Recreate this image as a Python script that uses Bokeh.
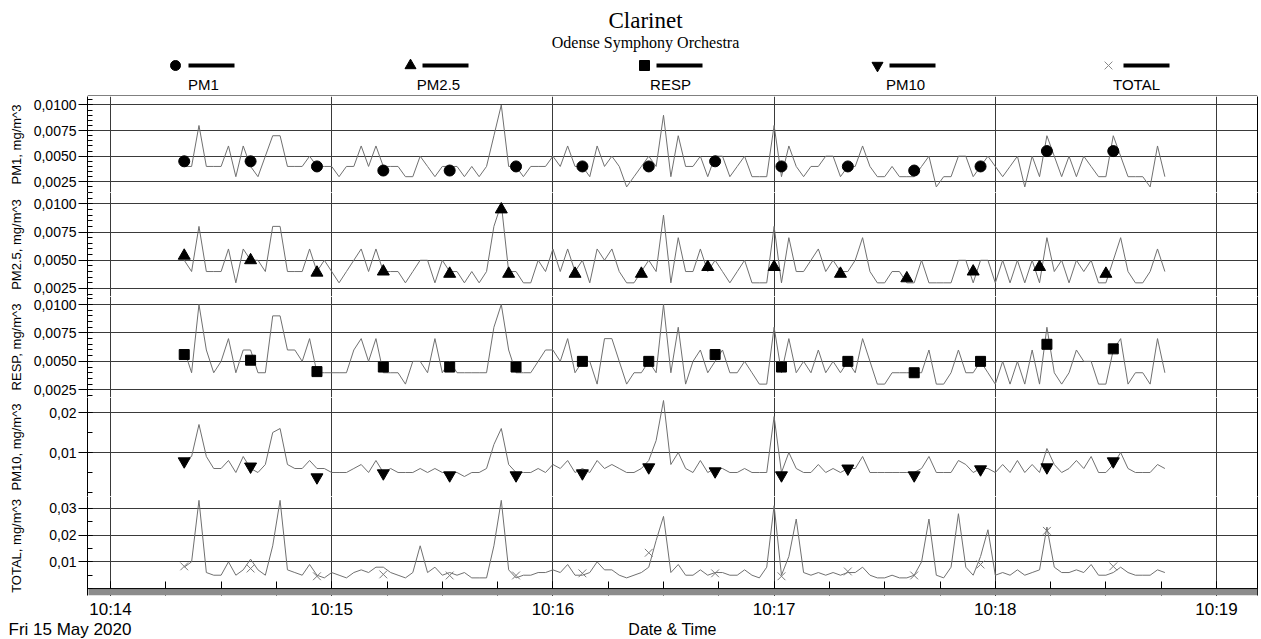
import numpy as np
import pandas as pd
from bokeh.plotting import figure
from bokeh.layouts import column
from bokeh.models import (Range1d, FixedTicker, LinearAxis, DatetimeAxis, DatetimeTickFormatter,
                          Grid, Span, BoxAnnotation, ColumnDataSource)
from bokeh.core.properties import value
from bokeh.embed import file_html
from bokeh.resources import INLINE

# ---------------------------------------------------------------- data
TITLE = "Clarinet"
SUBTITLE = "Odense Symphony Orchestra"
SERIES = ["PM1", "PM2.5", "RESP", "PM10", "TOTAL"]
Y_TITLES = ["PM1, mg/m^3", "PM2.5, mg/m^3", "RESP, mg/m^3", "PM10, mg/m^3", "TOTAL, mg/m^3"]
DATE_TEXT = "Fri 15 May 2020"
X_TITLE = "Date & Time"
DAY = "2020-05-15"
X_TICK_LABELS = ["10:14", "10:15", "10:16", "10:17", "10:18", "10:19"]
SAMPLE_START = "10:14:20"
SAMPLE_STEP_S = 2

PM1 = [0.004, 0.004, 0.008, 0.004, 0.004, 0.004, 0.006, 0.003, 0.006, 0.004, 0.003, 0.005, 0.007,
       0.007, 0.004, 0.004, 0.004, 0.005, 0.004, 0.004, 0.004, 0.003, 0.004, 0.004, 0.006, 0.004,
       0.006, 0.004, 0.004, 0.004, 0.003, 0.003, 0.005,
       0.004, 0.003, 0.004, 0.004, 0.004, 0.003, 0.004, 0.003, 0.004, 0.007,
       0.010, 0.004, 0.004, 0.003, 0.004, 0.004, 0.004, 0.005, 0.004, 0.006,
       0.004, 0.004, 0.003, 0.006, 0.004, 0.005, 0.004, 0.002, 0.003, 0.004,
       0.005, 0.004, 0.009, 0.003, 0.007, 0.004, 0.004, 0.005, 0.003, 0.005,
       0.005, 0.003, 0.004, 0.005, 0.003, 0.003, 0.003, 0.008, 0.003, 0.006,
       0.004, 0.003, 0.004, 0.004, 0.005,
       0.005, 0.003, 0.004, 0.004, 0.006, 0.004, 0.003, 0.003, 0.004, 0.003,
       0.003, 0.003, 0.004, 0.005, 0.002, 0.003, 0.003, 0.005, 0.005, 0.003,
       0.004, 0.005, 0.004, 0.003, 0.004, 0.005, 0.002, 0.005, 0.003, 0.007,
       0.005, 0.003, 0.005, 0.003, 0.005, 0.004, 0.003, 0.003, 0.007, 0.005,
       0.003, 0.003, 0.003, 0.002, 0.006, 0.003]
PM25 = [0.005, 0.004, 0.008, 0.004, 0.004, 0.004, 0.006, 0.003, 0.006, 0.005, 0.005, 0.004, 0.008,
        0.008, 0.004, 0.004, 0.004, 0.006, 0.004, 0.005, 0.004, 0.003, 0.004, 0.005, 0.006, 0.004,
        0.006, 0.004, 0.004, 0.004, 0.003, 0.004, 0.005,
        0.005, 0.003, 0.005, 0.004, 0.004, 0.003, 0.004, 0.003, 0.004, 0.008,
        0.010, 0.004, 0.004, 0.003, 0.003, 0.005, 0.004, 0.006, 0.004, 0.006,
        0.004, 0.005, 0.003, 0.006, 0.005, 0.006, 0.004, 0.003, 0.003, 0.004,
        0.005, 0.004, 0.009, 0.003, 0.007, 0.004, 0.004, 0.006, 0.004, 0.005,
        0.004, 0.003, 0.004, 0.005, 0.003, 0.003, 0.003, 0.008, 0.003, 0.007,
        0.004, 0.004, 0.005, 0.006, 0.004,
        0.005, 0.004, 0.004, 0.005, 0.007, 0.004, 0.003, 0.003, 0.004, 0.004,
        0.003, 0.003, 0.005, 0.003, 0.003, 0.003, 0.003, 0.005, 0.005, 0.003,
        0.005, 0.005, 0.003, 0.005, 0.003, 0.005, 0.003, 0.005, 0.003, 0.007,
        0.004, 0.005, 0.003, 0.005, 0.004, 0.005, 0.003, 0.003, 0.005, 0.007,
        0.004, 0.003, 0.003, 0.004, 0.006, 0.004]
RESP = [0.006, 0.004, 0.010, 0.006, 0.004, 0.005, 0.007, 0.004, 0.006, 0.006, 0.004, 0.004, 0.009,
        0.009, 0.006, 0.006, 0.005, 0.007, 0.004, 0.004, 0.004, 0.004, 0.004, 0.006, 0.007, 0.005,
        0.007, 0.004, 0.004, 0.004, 0.003, 0.005, 0.005,
        0.004, 0.007, 0.004, 0.005, 0.004, 0.004, 0.004, 0.004, 0.004, 0.008,
        0.010, 0.006, 0.004, 0.004, 0.004, 0.005, 0.006, 0.006, 0.005, 0.007,
        0.004, 0.005, 0.005, 0.003, 0.007, 0.007, 0.005, 0.003, 0.004, 0.004,
        0.005, 0.004, 0.010, 0.004, 0.008, 0.003, 0.005, 0.006, 0.004, 0.005,
        0.006, 0.004, 0.004, 0.005, 0.004, 0.003, 0.003, 0.008, 0.004, 0.007,
        0.004, 0.005, 0.004, 0.006, 0.004,
        0.005, 0.004, 0.005, 0.004, 0.007, 0.005, 0.003, 0.003, 0.004, 0.004,
        0.004, 0.004, 0.004, 0.006, 0.003, 0.003, 0.004, 0.006, 0.004, 0.004,
        0.005, 0.004, 0.003, 0.005, 0.003, 0.005, 0.003, 0.006, 0.003, 0.008,
        0.004, 0.003, 0.004, 0.006, 0.005, 0.005, 0.003, 0.003, 0.006, 0.007,
        0.003, 0.004, 0.004, 0.003, 0.007, 0.004]
PM10 = [0.008, 0.009, 0.017, 0.009, 0.006, 0.006, 0.008, 0.005, 0.009, 0.006, 0.005, 0.007, 0.015,
        0.016, 0.007, 0.006, 0.006, 0.008, 0.006, 0.006, 0.005, 0.005, 0.005, 0.006, 0.007, 0.005,
        0.008, 0.005, 0.006, 0.005, 0.005, 0.005, 0.006,
        0.005, 0.006, 0.005, 0.005, 0.005, 0.004, 0.005, 0.005, 0.006, 0.012,
        0.016, 0.007, 0.005, 0.005, 0.005, 0.006, 0.005, 0.007, 0.006, 0.008,
        0.005, 0.006, 0.005, 0.008, 0.006, 0.007, 0.006, 0.005, 0.005, 0.006,
        0.008, 0.013, 0.023, 0.007, 0.010, 0.006, 0.005, 0.008, 0.005, 0.006,
        0.006, 0.005, 0.005, 0.006, 0.005, 0.005, 0.005, 0.019, 0.005, 0.010,
        0.006, 0.005, 0.005, 0.007, 0.005,
        0.006, 0.005, 0.006, 0.006, 0.009, 0.005, 0.005, 0.005, 0.005, 0.005,
        0.005, 0.005, 0.006, 0.009, 0.005, 0.005, 0.005, 0.008, 0.007, 0.005,
        0.006, 0.006, 0.005, 0.007, 0.005, 0.008, 0.005, 0.007, 0.005, 0.011,
        0.007, 0.005, 0.006, 0.008, 0.006, 0.009, 0.005, 0.005, 0.007, 0.010,
        0.006, 0.005, 0.005, 0.005, 0.007, 0.006]
TOTAL = [0.008, 0.010, 0.033, 0.006, 0.005, 0.005, 0.010, 0.005, 0.007, 0.011,
         0.007, 0.005, 0.016, 0.033, 0.007, 0.006, 0.005, 0.009, 0.005, 0.004,
         0.006, 0.005, 0.004, 0.006, 0.007, 0.006, 0.008, 0.008, 0.006, 0.005,
         0.004, 0.006, 0.016, 0.006, 0.008, 0.005, 0.006, 0.005, 0.006, 0.004,
         0.004, 0.004, 0.016, 0.033, 0.007, 0.004, 0.005, 0.005, 0.006, 0.006,
         0.007, 0.006, 0.009, 0.005, 0.005, 0.006, 0.010, 0.007, 0.007, 0.005,
         0.004, 0.005, 0.006, 0.008, 0.018, 0.027, 0.006, 0.009, 0.005, 0.005,
         0.007, 0.005, 0.006, 0.006, 0.005, 0.005, 0.007, 0.005, 0.004, 0.008,
         0.031, 0.005, 0.012, 0.026, 0.006, 0.005, 0.006, 0.005, 0.006, 0.005,
         0.006, 0.006, 0.008, 0.005, 0.004, 0.004, 0.005, 0.004, 0.004, 0.005,
         0.010, 0.026, 0.005, 0.004, 0.008, 0.028, 0.008, 0.005, 0.012, 0.022,
         0.005, 0.006, 0.005, 0.007, 0.005, 0.006, 0.007, 0.023, 0.008, 0.006,
         0.006, 0.007, 0.006, 0.009, 0.005, 0.005, 0.006, 0.008, 0.006, 0.005,
         0.005, 0.005, 0.007, 0.006]

# marker samples: seconds after 10:14:00 and values
MARK_T = [20, 38, 56, 74, 92, 110, 128, 146, 164, 182, 200, 218, 236, 254, 272]
MARK_T_PM25 = [20, 38, 56, 74, 92, 106, 108, 126, 144, 162, 180, 198, 216, 234, 252, 270]
PM1_MARK = [0.0045, 0.0045, 0.0040, 0.0036, 0.0036, 0.0040, 0.0040, 0.0040, 0.0045, 0.0040,
            0.0040, 0.0036, 0.0040, 0.0055, 0.0055]
PM25_MARK = [0.0054, 0.0050, 0.0039, 0.0040, 0.0038, 0.0095, 0.0038, 0.0038, 0.0038, 0.0044,
             0.0044, 0.0038, 0.0034, 0.0040, 0.0044, 0.0038]
RESP_MARK = [0.0056, 0.0051, 0.0041, 0.0045, 0.0045, 0.0045, 0.0050, 0.0050, 0.0056, 0.0045,
             0.0050, 0.0040, 0.0050, 0.0065, 0.0061]
PM10_MARK = [0.0078, 0.0065, 0.0038, 0.0048, 0.0043, 0.0043, 0.0048, 0.0063, 0.0053, 0.0043,
             0.0060, 0.0043, 0.0058, 0.0063, 0.0078]
TOTAL_MARK = [0.0083, 0.0075, 0.0046, 0.0053, 0.0049, 0.0049, 0.0057, 0.0134, 0.0057, 0.0046,
              0.0064, 0.0049, 0.0090, 0.0216, 0.0083]

PM_Y_TICKS = [0.0025, 0.0050, 0.0075, 0.0100]
PM_Y_LABELS = ["0,0025", "0,0050", "0,0075", "0,0100"]
PM10_Y_TICKS = [0.01, 0.02]
PM10_Y_LABELS = ["0,01", "0,02"]
TOTAL_Y_TICKS = [0.01, 0.02, 0.03]
TOTAL_Y_LABELS = ["0,01", "0,02", "0,03"]

# ---------------------------------------------------------------- layout / style
PAGE_W = 1261
LEFT = 87                 # frame left (page px)
RIGHT_B = 4               # right border
FRAME_R = PAGE_W - RIGHT_B
PX_PER_S = 221.2 / 60.0
X0_PX = 110               # page px of 10:14
GRID = "#3a3a3a"
TRACE = "#707070"
SANS = "Liberation Sans"
SERIF = "Liberation Serif"


def ms(ts):
    return pd.Timestamp(ts).timestamp() * 1000.0


t0 = pd.Timestamp(f"{DAY} {X_TICK_LABELS[0]}")
sample_times = pd.Timestamp(f"{DAY} {SAMPLE_START}") + pd.to_timedelta(
    np.arange(len(PM1)) * SAMPLE_STEP_S, unit="s")

x_start = ms(t0) - (X0_PX - LEFT) / PX_PER_S * 1000.0
x_end = ms(t0) + (FRAME_R - X0_PX) / PX_PER_S * 1000.0
xr = Range1d(x_start, x_end)
ONE_PX_MS = 1000.0 / PX_PER_S

x_major = [ms(f"{DAY} {lab}") for lab in X_TICK_LABELS]
x_minor = list(np.arange(x_major[0] - 60000.0, x_major[-1] + 60001.0, 15000.0))


def bare_fig(width, height, xrng, yrng, lb, rb):
    f = figure(width=width, height=height, x_range=xrng, y_range=yrng,
               x_axis_location=None, y_axis_location=None, toolbar_location=None,
               output_backend="svg", min_border=0, min_border_left=lb, min_border_right=rb,
               min_border_top=0, min_border_bottom=0)
    f.outline_line_color = None
    f.grid.visible = False
    return f


def htext(fig, x, y, txt, font, size, align="center"):
    fig.text(x=[x], y=[y], text=[txt], text_font=value(font), text_font_size=value(size),
             text_align=align, text_baseline="middle", text_color="black")


# header (frame aligned to the panels: x in page px between LEFT and FRAME_R)
hdr = bare_fig(PAGE_W, 96, Range1d(LEFT, FRAME_R), Range1d(96, 0), LEFT, RIGHT_B)
htext(hdr, 645, 20, TITLE, SERIF, "23px")
htext(hdr, 645, 42, SUBTITLE, SERIF, "16px")
leg_marker_x = [175, 410, 644, 877, 1108]
leg_line_x0 = [188, 422, 656, 889, 1123]
leg_label_x = [203, 438, 670, 905, 1136]
leg_markers = ["circle", "triangle", "square", "inverted_triangle", "x"]
leg_sizes = [10, 11, 10, 11, 11]
leg_colors = ["black", "black", "black", "black", "#8a8a8a"]
for i, name in enumerate(SERIES):
    hdr.scatter(x=[leg_marker_x[i]], y=[65], marker=leg_markers[i], size=leg_sizes[i],
                fill_color=leg_colors[i], line_color=leg_colors[i])
    hdr.segment(x0=[leg_line_x0[i]], y0=[65], x1=[leg_line_x0[i] + 46], y1=[65],
                line_color="black", line_width=4)
    htext(hdr, leg_label_x[i], 84, name, SANS, "15px")
hdr.segment(x0=[LEFT], y0=[95.5], x1=[FRAME_R], y1=[95.5], line_color="black", line_width=1)

# panels ---------------------------------------------------------------
PM_MINOR = list(np.round(np.arange(0.0010, 0.0115, 0.0005), 4))
TOT_YPP = 0.01 / 27.0
panels_cfg = [
    dict(vals=PM1, mt=MARK_T, mv=PM1_MARK, h=96, yr=(0.001455, 0.010830), ticks=PM_Y_TICKS,
         labels=PM_Y_LABELS, minor=PM_MINOR, lstand=7),
    dict(vals=PM25, mt=MARK_T_PM25, mv=PM25_MARK, h=104, yr=(0.00179, 0.01100),
         ticks=PM_Y_TICKS, labels=PM_Y_LABELS, minor=PM_MINOR, lstand=7),
    dict(vals=RESP, mt=MARK_T, mv=RESP_MARK, h=101, yr=(0.001823, 0.010703), ticks=PM_Y_TICKS,
         labels=PM_Y_LABELS, minor=PM_MINOR, lstand=7),
    dict(vals=PM10, mt=MARK_T, mv=PM10_MARK, h=99, yr=(-0.001, 0.02375), ticks=PM10_Y_TICKS,
         labels=PM10_Y_LABELS, minor=list(np.round(np.arange(0.0, 0.0251, 0.005), 3)),
         lstand=22),
    dict(vals=TOTAL, mt=MARK_T, mv=TOTAL_MARK, h=100, yr=(-7 * TOT_YPP, 93 * TOT_YPP),
         ticks=TOTAL_Y_TICKS, labels=TOTAL_Y_LABELS,
         minor=list(np.round(np.arange(0.0, 0.0351, 0.005), 3)), lstand=22),
]
marker_sizes = [11, 12, 10, 12, 11]

figs = [hdr]
for i, cfg in enumerate(panels_cfg):
    last = i == len(panels_cfg) - 1
    bottom = 25 if last else 0
    p = bare_fig(PAGE_W, cfg["h"] + bottom, xr, Range1d(*cfg["yr"]), LEFT, RIGHT_B)
    p.min_border_bottom = bottom
    yt = FixedTicker(ticks=cfg["ticks"], minor_ticks=cfg["minor"])
    p.add_layout(Grid(dimension=0, ticker=FixedTicker(ticks=x_major), grid_line_color=GRID,
                      grid_line_width=1))
    p.add_layout(Grid(dimension=1, ticker=FixedTicker(ticks=cfg["ticks"]), grid_line_color=GRID,
                      grid_line_width=1))
    ax = LinearAxis(ticker=yt, axis_label=Y_TITLES[i],
                    major_label_overrides=dict(zip(cfg["ticks"], cfg["labels"])),
                    axis_line_color="black", major_tick_line_color="black",
                    minor_tick_line_color="black", major_tick_out=9, major_tick_in=5,
                    minor_tick_out=0, minor_tick_in=5, major_label_standoff=2,
                    major_label_text_font=SANS, major_label_text_font_size="14px",
                    major_label_text_color="black", axis_label_text_font=SANS,
                    axis_label_text_font_size="13px", axis_label_text_font_style="normal",
                    axis_label_text_color="black", axis_label_standoff=cfg["lstand"])
    p.add_layout(ax, "left")
    rax = LinearAxis(ticker=FixedTicker(ticks=[]), axis_line_color="black",
                     major_tick_line_color=None, minor_tick_line_color=None,
                     major_label_text_font_size="0px", major_label_standoff=0)
    p.add_layout(rax, "right")

    src = ColumnDataSource(dict(t=sample_times, v=cfg["vals"]))
    p.line(x="t", y="v", source=src, line_color=TRACE, line_width=1)
    mt = t0 + pd.to_timedelta(cfg["mt"], unit="s")
    msrc = ColumnDataSource(dict(t=mt, v=cfg["mv"]))
    if leg_markers[i] == "x":
        p.scatter(x="t", y="v", source=msrc, marker="x", size=marker_sizes[i],
                  line_color="#7a7a7a", line_width=1)
    else:
        p.scatter(x="t", y="v", source=msrc, marker=leg_markers[i], size=marker_sizes[i],
                  fill_color="black", line_color="black")

    if last:
        xax = DatetimeAxis(ticker=FixedTicker(ticks=x_major, minor_ticks=x_minor),
                           formatter=DatetimeTickFormatter(seconds="%H:%M", minsec="%H:%M",
                                                           minutes="%H:%M", hourmin="%H:%M",
                                                           hours="%H:%M"),
                           axis_line_color=None, major_tick_line_color="black",
                           minor_tick_line_color="black", major_tick_in=14, major_tick_out=0,
                           minor_tick_in=14, minor_tick_out=0, major_label_standoff=4,
                           major_label_text_font=SANS, major_label_text_font_size="17px",
                           major_label_text_color="black")
        p.add_layout(xax, "below")
        # grey shadow strip under the time axis, and the axis line itself
        p.add_layout(BoxAnnotation(left=x_start + ONE_PX_MS, right=x_end,
                                   bottom=cfg["yr"][0], top=0.0,
                                   fill_color="#8c8c8c", fill_alpha=1.0, line_color=None))
        p.add_layout(Span(location=0.0, dimension="width", line_color="black", line_width=1))
    figs.append(p)

# footer row (separate root so that it can use the whole page width)
ftr = bare_fig(PAGE_W, 18, Range1d(0, PAGE_W), Range1d(639, 621), 0, 0)
htext(ftr, 8, 629, DATE_TEXT, SANS, "17px", align="left")
htext(ftr, (LEFT + FRAME_R) / 2.0, 629, X_TITLE, SANS, "16px")

layout = column(*figs, spacing=0)
open("out.html", "w").write(file_html([layout, ftr], INLINE))
